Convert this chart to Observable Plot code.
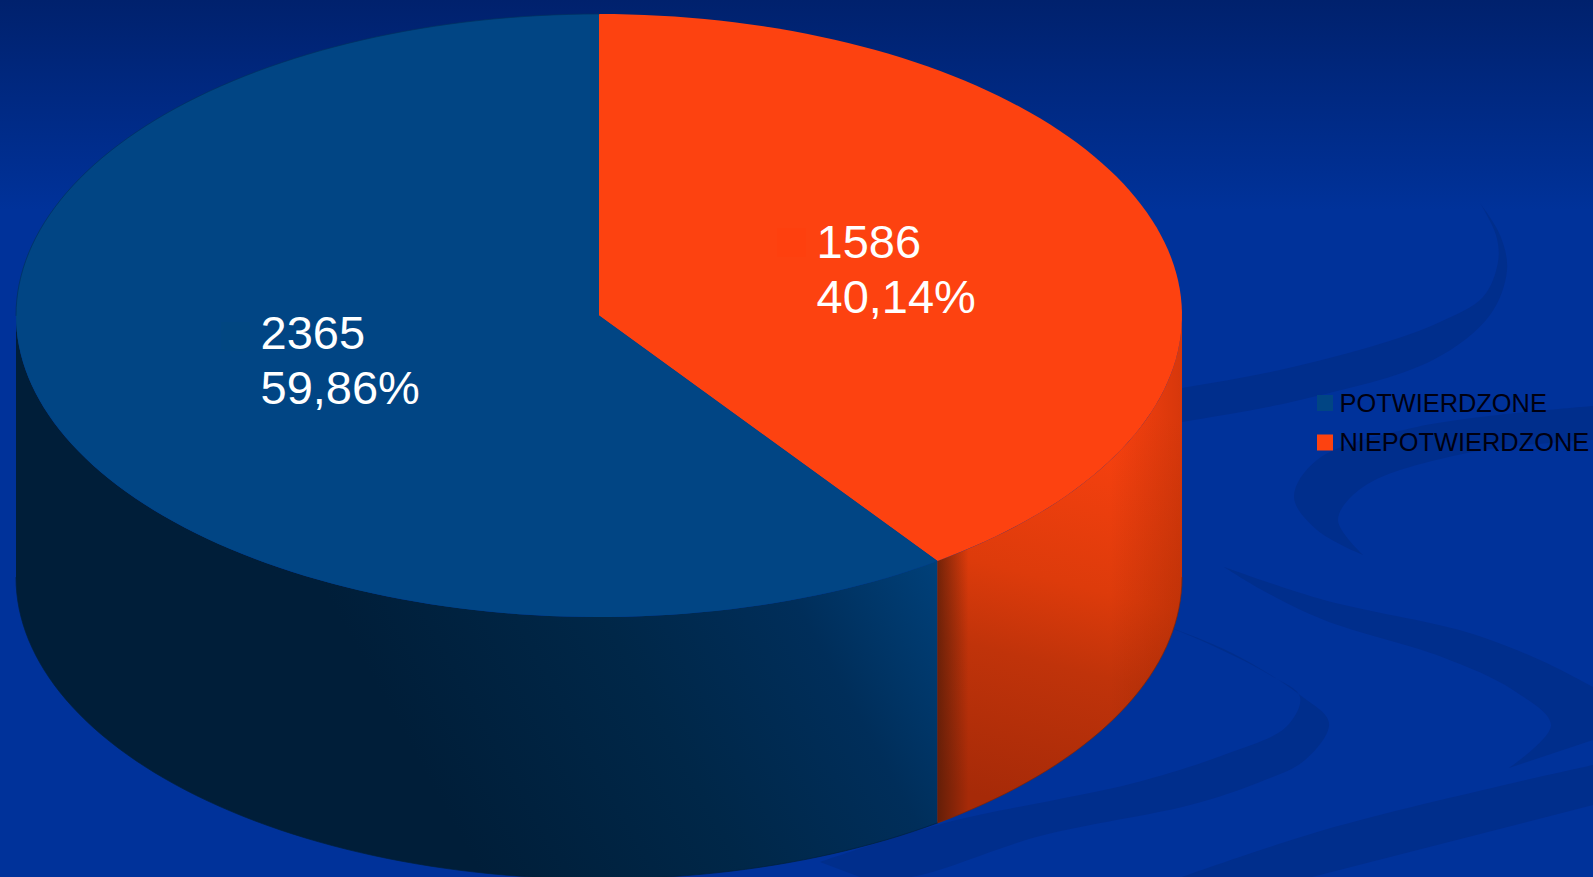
<!DOCTYPE html>
<html>
<head>
<meta charset="utf-8">
<script src="https://cdn.jsdelivr.net/npm/d3@7"></script>
<script src="https://cdn.jsdelivr.net/npm/@observablehq/plot@0.6"></script>
<style>
html,body{margin:0;padding:0;width:1593px;height:877px;overflow:hidden;background:#00329a}
svg{display:block}
</style>
</head>
<body>
<div id="chart"></div>
<script>
// Data
const categories = ["NIEPOTWIERDZONE", "POTWIERDZONE"];
const values = [1586, 2365];
const legendOrder = ["POTWIERDZONE", "NIEPOTWIERDZONE"];
const sliceColors = ["#fd4210", "#014584"];
const keyColors = ["#fe400e", "#014681"];

// Layout of the pseudo-3D pie
const W = 1593, H = 877;
const cx = 598.5, cy = 315, rx = 583, ry = 301.5, depth = 262;
const total = d3.sum(values);
const fullTurn = 2 * Math.PI;

// Decorative slide background (page CSS, not chart data)
const waves = [
  [[[1480,203],[1496,235],[1498,262],[1483,297],[1440,322],[1383,343],[1280,370],[1182,388],[1100,402]],
   [[1100,436],[1182,422],[1300,400],[1433,360],[1490,315],[1507,270],[1500,235],[1480,203]]],
  [[[1593,406],[1417,427],[1317,460],[1294,497],[1317,530],[1363,555]],
   [[1363,555],[1338,520],[1363,487],[1467,453],[1593,440]]],
  [[[1150,620],[1200,640],[1270,675],[1300,697],[1286,727],[1229,753],[1134,783],[945,823],[820,862]],
   [[860,877],[911,877],[1040,836],[1190,805],[1260,782],[1305,760],[1329,723],[1300,695],[1230,652],[1150,620]]],
  [[[1224,567],[1324,600],[1466,632],[1540,660],[1593,687]],
   [[1593,740],[1509,768]],
   [[1509,768],[1551,725],[1513,690],[1442,657],[1324,620],[1262,590],[1224,567]]],
  [[[1593,765],[1513,783],[1324,830],[1182,877]],
   [[1312,877],[1593,805]]]
];
const smooth = d3.line().curve(d3.curveCatmullRom);
const wavePath = w => w.map((seg,i) => (i ? "L" + smooth(seg).slice(1) : smooth(seg))).join("") + "Z";
const bgSvg = `<svg xmlns="http://www.w3.org/2000/svg" width="${W}" height="${H}">
<defs><linearGradient id="b" x1="0" y1="0" x2="0" y2="1"><stop offset="0" stop-color="#00216d"/><stop offset=".24" stop-color="#00329a"/><stop offset="1" stop-color="#00329a"/></linearGradient></defs>
<rect width="${W}" height="${H}" fill="url(#b)"/>
${waves.map(w => `<path d="${wavePath(w)}" fill="#002e8c"/>`).join("")}</svg>`;
document.body.style.backgroundImage = `url("data:image/svg+xml,${encodeURIComponent(bgSvg)}")`;

// Slices, from the values (clockwise from 12 o'clock)
const arcs = d3.pie().sort(null).value(d => d)(values);
const px = a => cx + rx * Math.sin(a);
const py = a => cy - ry * Math.cos(a);
const N = 240;
function angleRange(a0, a1) {
  const n = Math.max(2, Math.ceil((a1 - a0) / fullTurn * N));
  return d3.range(n + 1).map(i => a0 + (a1 - a0) * i / n);
}
const topRows = arcs.flatMap((s, i) => [
  {category: categories[i], X: cx, Y: cy},
  ...angleRange(s.startAngle, s.endAngle).map(a => ({category: categories[i], X: px(a), Y: py(a)}))
]);
function visibleAngles(i) {
  return angleRange(Math.max(arcs[i].startAngle, Math.PI / 2), Math.min(arcs[i].endAngle, 3 * Math.PI / 2));
}
function sideRows(i) {
  const r = visibleAngles(i);
  return [...r.map(a => ({X: px(a), Y: py(a)})),
          ...r.slice().reverse().map(a => ({X: px(a), Y: py(a) + depth}))];
}
const edgeRows = i => visibleAngles(i).map(a => ({X: px(a), Y: py(a) + depth}));
const rimRows = angleRange(3 * Math.PI / 2, fullTurn).map(a => ({X: px(a), Y: py(a)}));

// Labels
const fmtPct = v => (v / total * 100).toFixed(2).replace(".", ",") + "%";
const labelFont = 47;
const labelAt = {NIEPOTWIERDZONE: [816, 251.5, 777, 228], POTWIERDZONE: [260, 343, 221, 322]};
const labelRows = categories.map((c, i) => ({
  category: c, key: keyColors[i],
  text: values[i] + "\n" + fmtPct(values[i]),
  X: labelAt[c][0], Y: labelAt[c][1] - 0.71 * labelFont,
  sx: labelAt[c][2], sy: labelAt[c][3]
}));
const legendFont = 25.4;
const legendRows = legendOrder.map((c, i) => ({category: c, x0: 1317, y0: 395 + i * 39.5}));

const defs = () => {
  const ns = "http://www.w3.org/2000/svg";
  const g = document.createElementNS(ns, "defs");
  g.innerHTML = `
  <linearGradient id="sideBlue" gradientUnits="userSpaceOnUse" x1="960" y1="540" x2="450" y2="820">
    <stop offset="0" stop-color="#004480"/><stop offset=".3" stop-color="#002e5a"/><stop offset=".6" stop-color="#002748"/><stop offset="1" stop-color="#001e39"/>
  </linearGradient>
  <linearGradient id="sideOrange" gradientUnits="userSpaceOnUse" x1="1100" y1="400" x2="1000" y2="800">
    <stop offset="0" stop-color="#fd4210"/><stop offset=".45" stop-color="#dd3b0b"/><stop offset=".65" stop-color="#c0330a"/><stop offset="1" stop-color="#a62a08"/>
  </linearGradient>
  <linearGradient id="shadeRight" gradientUnits="userSpaceOnUse" x1="1110" y1="0" x2="1182" y2="0">
    <stop offset="0" stop-color="#7a1e00" stop-opacity="0"/><stop offset="1" stop-color="#7a1e00" stop-opacity=".3"/>
  </linearGradient>
  <linearGradient id="shadeLeft" gradientUnits="userSpaceOnUse" x1="937.5" y1="0" x2="968" y2="0">
    <stop offset="0" stop-color="#4a1a08" stop-opacity=".7"/><stop offset="1" stop-color="#4a1a08" stop-opacity="0"/>
  </linearGradient>`;
  return g;
};

const xy = {x: "X", y: "Y"};
const chart = Plot.plot({
  width: W, height: H,
  margin: 0,
  x: {domain: [0, W], range: [0, W], axis: null},
  y: {domain: [0, H], range: [0, H], axis: null},
  color: {domain: categories, range: sliceColors},
  style: {background: "transparent", fontFamily: "'Liberation Sans', Arial, sans-serif"},
  marks: [
    defs,
    Plot.line(sideRows(1), {...xy, fill: "url(#sideBlue)", stroke: null}),
    Plot.line(sideRows(0), {...xy, fill: "url(#sideOrange)", stroke: null}),
    Plot.line(sideRows(0), {...xy, fill: "url(#shadeRight)", stroke: null}),
    Plot.line(sideRows(0), {...xy, fill: "url(#shadeLeft)", stroke: null}),
    Plot.line(edgeRows(0), {...xy, stroke: "#7a2408", strokeWidth: 0.7}),
    Plot.line(edgeRows(1), {...xy, stroke: "#00203c", strokeWidth: 0.7}),
    Plot.line(topRows, {...xy, z: "category", fill: "category", stroke: null}),
    Plot.line(rimRows, {...xy, stroke: "#00305f", strokeWidth: 0.7}),
    // faint key squares next to the data labels
    Plot.rect(labelRows, {x1: "sx", x2: d => d.sx + 29, y1: "sy", y2: d => d.sy + 29, fill: "key"}),
    Plot.text(labelRows, {x: "X", y: "Y", text: "text", fill: "white", textAnchor: "start", lineAnchor: "top", lineHeight: 55 / labelFont, fontSize: labelFont}),
    // legend
    Plot.rect(legendRows, {x1: "x0", x2: d => d.x0 + 16, y1: "y0", y2: d => d.y0 + 16, fill: "category"}),
    Plot.text(legendRows, {x: d => d.x0 + 22, y: d => d.y0 + 8, text: "category", fill: "#000010", textAnchor: "start", lineAnchor: "middle", fontSize: legendFont})
  ]
});
document.getElementById("chart").appendChild(chart);
</script>
</body>
</html>
